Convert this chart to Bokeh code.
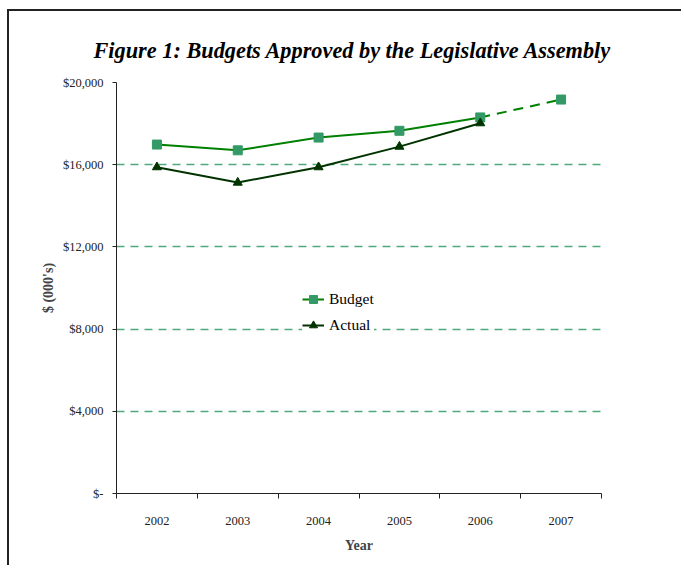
from bokeh.plotting import figure
from bokeh.models import Range1d, FixedTicker, Legend, LegendItem
from bokeh.embed import file_html
from bokeh.resources import INLINE

years = ["2002", "2003", "2004", "2005", "2006", "2007"]
budget = [16980, 16700, 17320, 17650, 18300, 19170]
actual = [15880, 15130, 15880, 16880, 18020]
y_ticks = [0, 4000, 8000, 12000, 16000, 20000]
y_tick_labels = ["$-", "$4,000", "$8,000", "$12,000", "$16,000", "$20,000"]

FONT = "Liberation Serif"

xpos = [i + 0.5 for i in range(len(years))]

p = figure(width=674, height=556, output_backend="svg", toolbar_location=None,
           x_range=Range1d(0, len(years)), y_range=Range1d(0, 20000),
           min_border_left=107, min_border_right=82, min_border_top=71, min_border_bottom=74,
           title="Figure 1: Budgets Approved by the Legislative Assembly")
p.styles = {"border-left": "2px solid #222222", "border-top": "2px solid #222222",
            "margin-left": "7px", "margin-top": "9px"}
p.outline_line_color = None
p.background_fill_color = "white"
p.border_fill_color = "white"

p.title.align = "left"
p.title.offset = -23
p.title.text_font = FONT
p.title.text_font_style = "bold italic"
p.title.text_font_size = "22.3px"
p.title.text_color = "black"
p.title.standoff = 39

# grid
p.xgrid.visible = False
p.ygrid.ticker = FixedTicker(ticks=y_ticks)
p.ygrid.grid_line_color = "#339966"
p.ygrid.grid_line_dash = "8 6"
p.ygrid.grid_line_width = 1.3
p.ygrid.grid_line_alpha = 0.85

# y axis
ya = p.yaxis[0]
ya.ticker = FixedTicker(ticks=y_ticks)
ya.major_label_overrides = {t: l for t, l in zip(y_ticks, y_tick_labels)}
ya.major_tick_in = 0
ya.major_tick_out = 4
ya.minor_tick_line_color = None
ya.major_label_standoff = 9
ya.major_label_text_font = FONT
ya.major_label_text_font_size = "12.5px"
ya.major_label_text_color = "#222222"
ya.axis_label = "$ (000's)"
ya.axis_label_text_font = FONT
ya.axis_label_text_font_style = "bold"
ya.axis_label_text_font_size = "14px"
ya.axis_label_standoff = 4
ya.axis_line_color = "#222222"
ya.major_tick_line_color = "#222222"

# x axis
xa = p.xaxis[0]
xa.ticker = FixedTicker(ticks=xpos, minor_ticks=list(range(len(years) + 1)))
xa.major_label_overrides = {x: y for x, y in zip(xpos, years)}
xa.major_tick_line_color = None
xa.major_tick_in = 0
xa.major_tick_out = 5
xa.minor_tick_in = 0
xa.minor_tick_out = 5
xa.minor_tick_line_color = "#222222"
xa.major_label_standoff = 18
xa.major_label_text_font = FONT
xa.major_label_text_font_size = "12.5px"
xa.major_label_text_color = "#222222"
xa.axis_label = "Year"
xa.axis_label_text_font = FONT
xa.axis_label_text_font_style = "bold"
xa.axis_label_text_font_size = "14px"
xa.axis_label_standoff = 10
xa.axis_line_color = "#222222"

# data
n_act = len(actual)
b_line = p.line(xpos[:n_act], budget[:n_act], line_color="#008000", line_width=2)
p.line(xpos[n_act - 1:], budget[n_act - 1:], line_color="#008000", line_width=2, line_dash="10 7")
a_line = p.line(xpos[:n_act], actual, line_color="#003300", line_width=2)
b_pts = p.scatter(xpos, budget, marker="square", size=9, fill_color="#339966", line_color="#339966")
a_pts = p.scatter(xpos[:n_act], actual, marker="triangle", size=9, fill_color="#003300", line_color="#003300")

legend = Legend(items=[LegendItem(label="Budget", renderers=[b_line, b_pts]),
                       LegendItem(label="Actual", renderers=[a_line, a_pts])],
                location=(186, 158))
legend.border_line_color = None
legend.background_fill_color = "white"
legend.background_fill_alpha = 1.0
legend.label_text_font = FONT
legend.label_text_font_size = "15.5px"
legend.label_text_color = "black"
legend.glyph_width = 22
legend.glyph_height = 20
legend.label_height = 20
legend.label_standoff = 5
legend.spacing = 6
legend.padding = 18
legend.margin = 0
p.add_layout(legend, "center")

open("out.html", "w").write(file_html(p, INLINE))
